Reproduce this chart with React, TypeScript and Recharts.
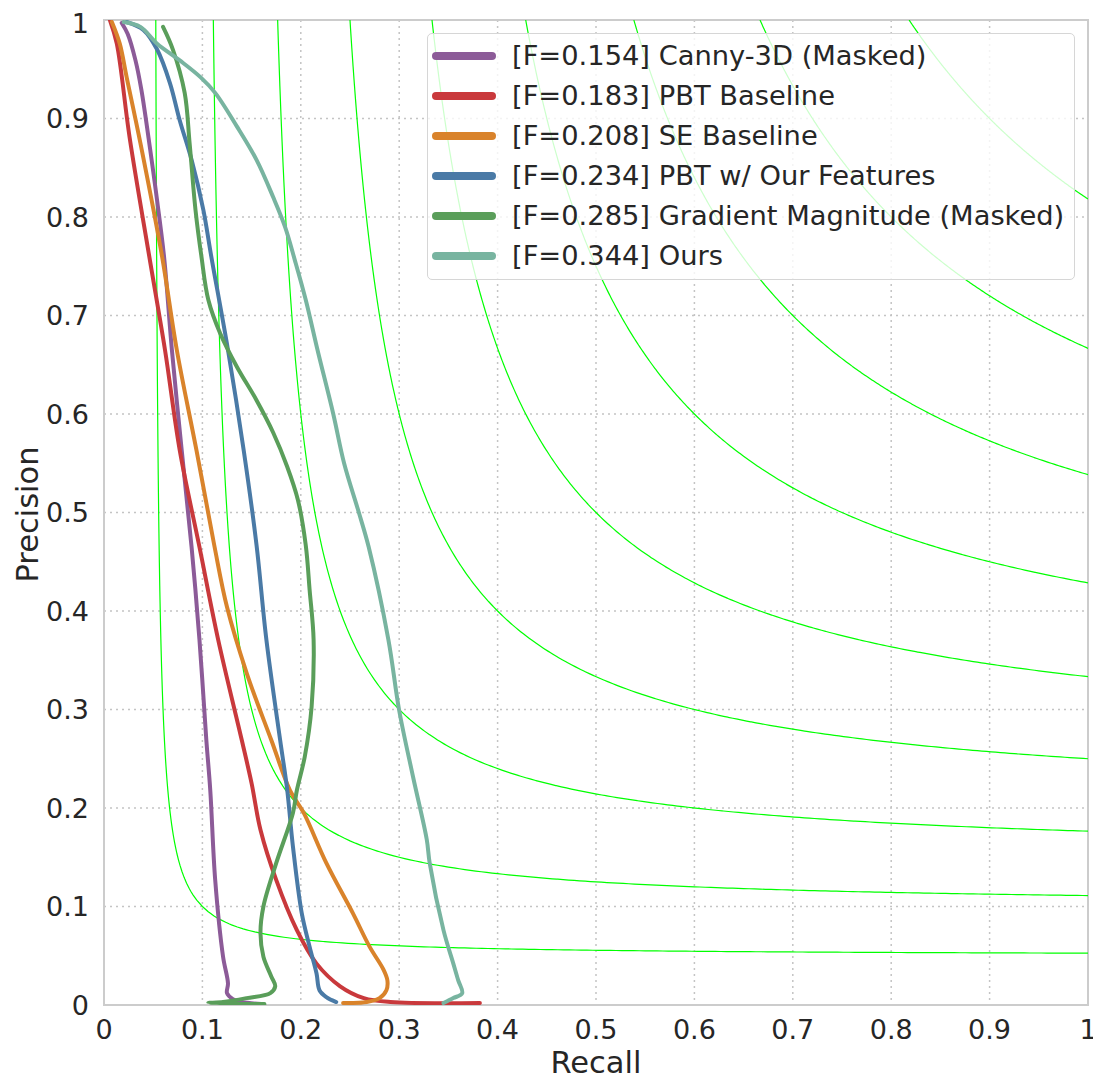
import React from 'react';
import { LineChart, Line, XAxis, YAxis, CartesianGrid, Legend, ReferenceArea } from 'recharts';

const FONT = '"DejaVu Sans", "Liberation Sans", sans-serif';
const TEXT = '#262626';
const FRAME = '#cccccc';

// Axis ticks (both axes run 0..1)
const axisTicks = [0, 0.1, 0.2, 0.3, 0.4, 0.5, 0.6, 0.7, 0.8, 0.9, 1];

// F-measure levels of the iso-F contours
const isoFLevels = [0.1, 0.2, 0.3, 0.4, 0.5, 0.6, 0.7, 0.8, 0.9];

// Precision / recall curves, listed from high precision to low precision
const cannyRecall = [0.018, 0.024, 0.032, 0.038, 0.047, 0.053, 0.061, 0.069, 0.079, 0.089, 0.097, 0.104, 0.108, 0.113, 0.121, 0.126, 0.125, 0.131, 0.14, 0.16];
const cannyPrecision = [0.997, 0.986, 0.959, 0.929, 0.868, 0.824, 0.76, 0.665, 0.563, 0.465, 0.371, 0.269, 0.218, 0.127, 0.049, 0.022, 0.012, 0.006, 0.003, 0.001];

const pbtRecall = [0.006, 0.013, 0.026, 0.046, 0.062, 0.077, 0.097, 0.116, 0.14, 0.15, 0.159, 0.175, 0.196, 0.216, 0.24, 0.264, 0.291, 0.382];
const pbtPrecision = [1.0, 0.976, 0.881, 0.76, 0.665, 0.563, 0.465, 0.371, 0.269, 0.225, 0.178, 0.127, 0.076, 0.042, 0.019, 0.007, 0.003, 0.002];

const seRecall = [0.008, 0.016, 0.023, 0.037, 0.059, 0.074, 0.094, 0.112, 0.125, 0.145, 0.17, 0.189, 0.203, 0.226, 0.253, 0.27, 0.284, 0.288, 0.287, 0.28, 0.267, 0.243];
const sePrecision = [0.998, 0.976, 0.942, 0.875, 0.76, 0.665, 0.563, 0.467, 0.404, 0.337, 0.269, 0.218, 0.195, 0.144, 0.093, 0.059, 0.036, 0.025, 0.015, 0.007, 0.003, 0.002];

const pbtOursRecall = [0.023, 0.04, 0.054, 0.067, 0.077, 0.089, 0.101, 0.109, 0.126, 0.142, 0.155, 0.165, 0.179, 0.186, 0.192, 0.201, 0.209, 0.216, 0.219, 0.226, 0.236];
const pbtOursPrecision = [0.998, 0.99, 0.97, 0.936, 0.898, 0.858, 0.807, 0.76, 0.665, 0.563, 0.467, 0.371, 0.269, 0.22, 0.161, 0.093, 0.059, 0.032, 0.015, 0.008, 0.003];

const gradRecall = [0.06, 0.07, 0.082, 0.087, 0.093, 0.099, 0.106, 0.118, 0.135, 0.155, 0.172, 0.186, 0.197, 0.205, 0.209, 0.213, 0.211, 0.204, 0.196, 0.192, 0.175, 0.162, 0.159, 0.162, 0.17, 0.174, 0.169, 0.145, 0.121, 0.106, 0.163];
const gradPrecision = [0.993, 0.97, 0.926, 0.875, 0.807, 0.76, 0.716, 0.682, 0.648, 0.614, 0.581, 0.547, 0.513, 0.467, 0.421, 0.371, 0.303, 0.252, 0.218, 0.195, 0.144, 0.1, 0.073, 0.049, 0.029, 0.019, 0.012, 0.007, 0.003, 0.002, 0.001];

const oursRecall = [0.02, 0.037, 0.054, 0.077, 0.098, 0.113, 0.135, 0.155, 0.172, 0.184, 0.194, 0.205, 0.217, 0.233, 0.244, 0.259, 0.269, 0.289, 0.3, 0.314, 0.328, 0.331, 0.345, 0.355, 0.36, 0.364, 0.355, 0.345];
const oursPrecision = [0.998, 0.993, 0.976, 0.959, 0.942, 0.926, 0.892, 0.858, 0.82, 0.79, 0.756, 0.716, 0.665, 0.6, 0.55, 0.5, 0.465, 0.371, 0.299, 0.232, 0.168, 0.144, 0.076, 0.042, 0.025, 0.012, 0.007, 0.002];

const seriesNames = [
  '[F=0.154] Canny-3D (Masked)',
  '[F=0.183] PBT Baseline',
  '[F=0.208] SE Baseline',
  '[F=0.234] PBT w/ Our Features',
  '[F=0.285] Gradient Magnitude (Masked)',
  '[F=0.344] Ours',
];
const seriesColors = ['#8c5b98', '#c9393c', '#d9832b', '#4a7aa6', '#5a9e5a', '#78b4a0'];

type Pt = { r: number; p: number };

const zip = (rs: number[], ps: number[]): Pt[] => rs.map((r, i) => ({ r, p: ps[i] }));

const series = [
  zip(cannyRecall, cannyPrecision),
  zip(pbtRecall, pbtPrecision),
  zip(seRecall, sePrecision),
  zip(pbtOursRecall, pbtOursPrecision),
  zip(gradRecall, gradPrecision),
  zip(oursRecall, oursPrecision),
].map((data, i) => ({ data, name: seriesNames[i], color: seriesColors[i] }));

// Iso-F contour: all (R, P) with 2PR / (P + R) = f inside the unit square
function isoCurve(f: number): Pt[] {
  const edge = f / (2 - f);
  const pts: Pt[] = [];
  const n = 160;
  for (let i = 0; i <= n; i++) {
    const r = edge + ((1 - edge) * i) / n;
    pts.push({ r, p: (f * r) / (2 * r - f) });
  }
  for (let i = 1; i < n; i++) {
    const p = edge + ((1 - edge) * i) / n;
    pts.push({ r: (f * p) / (2 * p - f), p });
  }
  pts.sort((a, b) => a.r - b.r);
  return pts;
}

// Centripetal Catmull-Rom curve factory (the PR curves fold back in recall,
// so the smoothing has to be parametric rather than monotone in x or y)
function centripetalCurve(context: any) {
  let pts: number[][] = [];
  const alpha = 0.5;
  const eps = 1e-9;
  return {
    areaStart() {},
    areaEnd() {},
    lineStart() {
      pts = [];
    },
    point(x: number, y: number) {
      pts.push([+x, +y]);
    },
    lineEnd() {
      if (!pts.length) return;
      context.moveTo(pts[0][0], pts[0][1]);
      if (pts.length === 1) return;
      for (let i = 0; i < pts.length - 1; i++) {
        const p0 = pts[i - 1] || pts[i];
        const p1 = pts[i];
        const p2 = pts[i + 1];
        const p3 = pts[i + 2] || pts[i + 1];
        const d01 = Math.hypot(p1[0] - p0[0], p1[1] - p0[1]);
        const d12 = Math.hypot(p2[0] - p1[0], p2[1] - p1[1]);
        const d23 = Math.hypot(p3[0] - p2[0], p3[1] - p2[1]);
        const l01a = Math.pow(d01, alpha);
        const l01_2a = Math.pow(d01, 2 * alpha);
        const l12a = Math.pow(d12, alpha);
        const l12_2a = Math.pow(d12, 2 * alpha);
        const l23a = Math.pow(d23, alpha);
        const l23_2a = Math.pow(d23, 2 * alpha);
        let c1x = p1[0];
        let c1y = p1[1];
        let c2x = p2[0];
        let c2y = p2[1];
        if (l01a > eps) {
          const a = 2 * l01_2a + 3 * l01a * l12a + l12_2a;
          const n = 3 * l01a * (l01a + l12a);
          c1x = (p1[0] * a - p0[0] * l12_2a + p2[0] * l01_2a) / n;
          c1y = (p1[1] * a - p0[1] * l12_2a + p2[1] * l01_2a) / n;
        }
        if (l23a > eps) {
          const b = 2 * l23_2a + 3 * l23a * l12a + l12_2a;
          const m = 3 * l23a * (l23a + l12a);
          c2x = (p2[0] * b + p1[0] * l23_2a - p3[0] * l12_2a) / m;
          c2y = (p2[1] * b + p1[1] * l23_2a - p3[1] * l12_2a) / m;
        }
        context.bezierCurveTo(c1x, c1y, c2x, c2y, p2[0], p2[1]);
      }
    },
  };
}

const fmt = (v: number) => (v === 0 ? '0' : v === 1 ? '1' : v.toFixed(1));

const tickStyle = { fontSize: 27, fill: TEXT, fontFamily: FONT };

const LegendBox = () => (
  <div
    style={{
      width: 648,
      height: 247,
      boxSizing: 'border-box',
      background: 'rgba(255,255,255,0.8)',
      border: '1.5px solid #d6d6d6',
      borderRadius: 5,
      paddingTop: 2,
      fontFamily: FONT,
      fontSize: 27.3,
      color: TEXT,
    }}
  >
    {series.map((s) => (
      <div key={s.name} style={{ height: 40, display: 'flex', alignItems: 'center' }}>
        <svg width={76} height={12} style={{ marginLeft: 2, marginRight: 6 }}>
          <line x1={6} y1={6} x2={62} y2={6} stroke={s.color} strokeWidth={8} strokeLinecap="round" />
        </svg>
        <span style={{ whiteSpace: 'nowrap', lineHeight: '40px' }}>{s.name}</span>
      </div>
    ))}
  </div>
);

const XLabel = (props: any) => {
  const vb = props.viewBox || { x: 96, y: 997, width: 984, height: 70 };
  return (
    <text x={vb.x + vb.width / 2} y={vb.y + 68} textAnchor="middle" fill={TEXT} fontSize={30.5} fontFamily={FONT}>
      Recall
    </text>
  );
};

const YLabel = (props: any) => {
  const vb = props.viewBox || { x: 16, y: 12, width: 80, height: 985 };
  const cx = 30;
  const cy = vb.y + vb.height / 2 + 2;
  return (
    <text x={cx} y={cy} transform={`rotate(-90 ${cx} ${cy})`} textAnchor="middle" fill={TEXT} fontSize={30.5} fontFamily={FONT}>
      Precision
    </text>
  );
};

export default function App() {
  return (
    <LineChart width={1093} height={1072} margin={{ top: 12, right: 13, bottom: 5, left: 16 }}>
      <CartesianGrid stroke="#c4c4c4" strokeWidth={1.5} strokeDasharray="2 4" />
      <XAxis
        type="number"
        dataKey="r"
        domain={[0, 1]}
        ticks={axisTicks}
        tickFormatter={fmt}
        allowDataOverflow
        height={70}
        tick={tickStyle}
        tickLine={false}
        tickSize={0}
        tickMargin={15}
        axisLine={false}
        label={<XLabel />}
      />
      <YAxis
        type="number"
        dataKey="p"
        domain={[0, 1]}
        ticks={axisTicks}
        tickFormatter={fmt}
        allowDataOverflow
        width={80}
        tick={tickStyle}
        tickLine={false}
        tickSize={0}
        tickMargin={15}
        axisLine={false}
        label={<YLabel />}
      />
      <ReferenceArea x1={0} x2={1} y1={0} y2={1} fill="none" stroke={FRAME} strokeWidth={2} ifOverflow="visible" />
      {isoFLevels.map((f) => (
        <Line
          key={`iso-${f}`}
          data={isoCurve(f)}
          dataKey="p"
          type="linear"
          stroke="#00ff00"
          strokeWidth={1.2}
          dot={false}
          activeDot={false}
          legendType="none"
          isAnimationActive={false}
        />
      ))}
      {series.map((s) => (
        <Line
          key={s.name}
          name={s.name}
          data={s.data}
          dataKey="p"
          type={centripetalCurve as any}
          stroke={s.color}
          strokeWidth={4}
          strokeLinecap="round"
          strokeLinejoin="round"
          dot={false}
          activeDot={false}
          isAnimationActive={false}
        />
      ))}
      <Legend
        layout="vertical"
        align="center"
        verticalAlign="middle"
        content={<LegendBox />}
        wrapperStyle={{ top: 25, left: 419, width: 648, height: 247 }}
      />
    </LineChart>
  );
}
